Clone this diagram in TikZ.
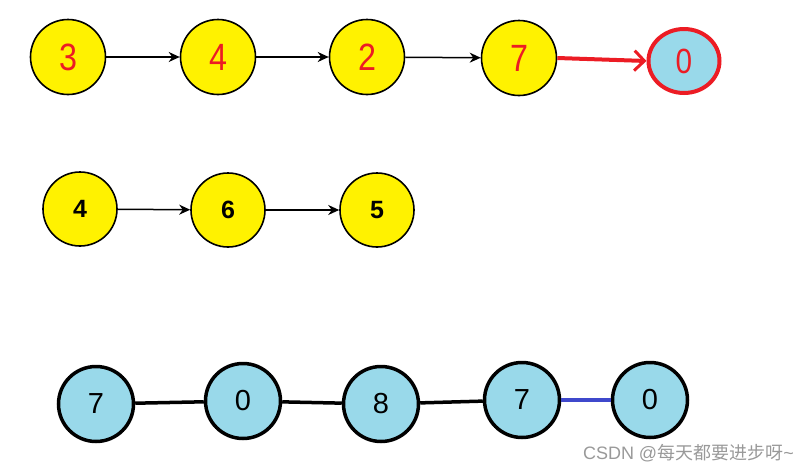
\documentclass[tikz,border=0pt]{standalone}
\usepackage{fontspec}
\setmainfont{Liberation Sans}
\newfontfamily\cjk{Noto Sans CJK SC}
\usetikzlibrary{arrows.meta,shapes.geometric}
\definecolor{yel}{HTML}{FFF200}
\definecolor{lblue}{HTML}{99D9EA}
\definecolor{nred}{HTML}{EC1C24}
\definecolor{nblue}{HTML}{3F48CC}
\newcommand{\rdig}[1]{\scalebox{0.85}[1]{\fontsize{38}{38}\selectfont #1}}
\begin{document}
\begin{tikzpicture}[x=1pt,y=-1pt,
  ynode/.style={circle,draw=black,line width=1.6pt,fill=yel,minimum size=75pt,inner sep=0pt},
  rnum/.style={text=nred},
  ysmall/.style={circle,draw=black,line width=1.6pt,fill=yel,minimum size=74pt,inner sep=0pt,font=\fontsize{25}{25}\selectfont\bfseries},
  bnode/.style={circle,draw=black,line width=3.5pt,fill=lblue,minimum size=75pt,inner sep=0pt,font=\fontsize{29}{29}\selectfont},
  arr/.style={line width=1.5pt,-{Stealth[length=11pt,width=10pt]}},
  link/.style={line width=3.5pt}]
\useasboundingbox (0,0) rectangle (807,472);
% row 1
\node[ynode,rnum] (a1) at (68,57) {\rdig{3}};
\node[ynode,rnum] (a2) at (218,57) {\rdig{4}};
\node[ynode,rnum] (a3) at (367,57) {\rdig{2}};
\node[ynode,rnum] (a4) at (519,58) {\rdig{7}};
\node[ellipse,draw=nred,line width=4pt,fill=lblue,minimum width=71pt,minimum height=64pt,inner sep=0pt,rnum] (a5) at (684,61) {\scalebox{0.85}[1]{\fontsize{35}{35}\selectfont 0}};
\draw[arr] (a1) -- (a2);
\draw[arr] (a2) -- (a3);
\draw[arr] (a3) -- (a4);
\draw[nred,line width=4pt,-{Straight Barb[length=10pt,width=20pt,line width=3pt]}] (a4.east) -- (a5.west);
% row 2
\node[ysmall] (b1) at (80,209) {4};
\node[ysmall] (b2) at (228,210) {6};
\node[ysmall] (b3) at (377,210) {5};
\draw[arr] (b1) -- (b2);
\draw[arr] (b2) -- (b3);
% row 3
\node[bnode] (c1) at (96,404) {7};
\node[bnode] (c2) at (243,401) {0};
\node[bnode] (c3) at (381,404) {8};
\node[bnode] (c4) at (522,400) {7};
\node[bnode] (c5) at (650,400) {0};
\draw[link] (c1) -- (c2);
\draw[link] (c2) -- (c3);
\draw[link] (c3) -- (c4);
\draw[link,nblue] (c4) -- (c5);
% watermark
\node[anchor=east,text=black!40,font=\fontsize{18}{18}\selectfont,inner sep=0pt] (wm) at (794,453) {CSDN @{\cjk 每天都要进步呀}\textasciitilde};
\end{tikzpicture}
\end{document}
